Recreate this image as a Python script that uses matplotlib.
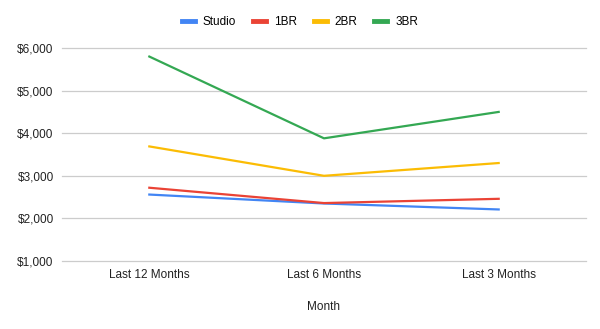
#!/usr/bin/env python3

import numpy as np
import matplotlib
matplotlib.use("Agg")
import matplotlib.pyplot as plt

months = ["Last 12 Months", "Last 6 Months", "Last 3 Months"]
studio = [2560, 2350, 2210]
br1 = [2720, 2360, 2460]
br2 = [3690, 3000, 3300]
br3 = [5800, 3880, 4500]

series = [("Studio", studio, "#4285f4"),
          ("1BR", br1, "#ea4335"),
          ("2BR", br2, "#fbbc04"),
          ("3BR", br3, "#34a853")]

plt.rcParams['font.family'] = ['Liberation Sans', 'DejaVu Sans']

fig = plt.figure(figsize=(6, 3.29), dpi=100)
ax = fig.add_axes([0.1033, 0.2067, 0.8734, 0.6473])

x = np.arange(len(months))
for name, vals, col in series:
    ax.plot(x, vals, color=col, linewidth=1.6, label=name)

ax.set_xlim(-0.5, len(months) - 0.5)
ax.set_ylim(1000, 6000)
ax.set_yticks(range(1000, 6001, 1000))
ax.set_yticklabels([f"${v:,}" for v in range(1000, 6001, 1000)])
ax.set_xticks(x)
ax.set_xticklabels(months)
ax.tick_params(length=0, labelsize=8.5, colors="#222222")
ax.tick_params(axis="y", pad=6)
ax.tick_params(axis="x", pad=6)
ax.grid(axis="y", color="#cccccc", linewidth=0.9)
for gl in ax.get_ygridlines():
    gl.set_clip_on(False)
ax.set_axisbelow(True)
for s in ax.spines.values():
    s.set_visible(False)

ax.set_xlabel("Month", fontsize=8.5, color="#222222", labelpad=14)

fig.legend(loc="center", bbox_to_anchor=(0.5, 0.933), ncol=4, frameon=False,
           fontsize=8.5, handlelength=1.1, handletextpad=0.7, columnspacing=1.4)
leg = fig.legends[0]
for h in leg.legend_handles:
    h.set_linewidth(3.5)

fig.savefig("out.png", dpi=100)
